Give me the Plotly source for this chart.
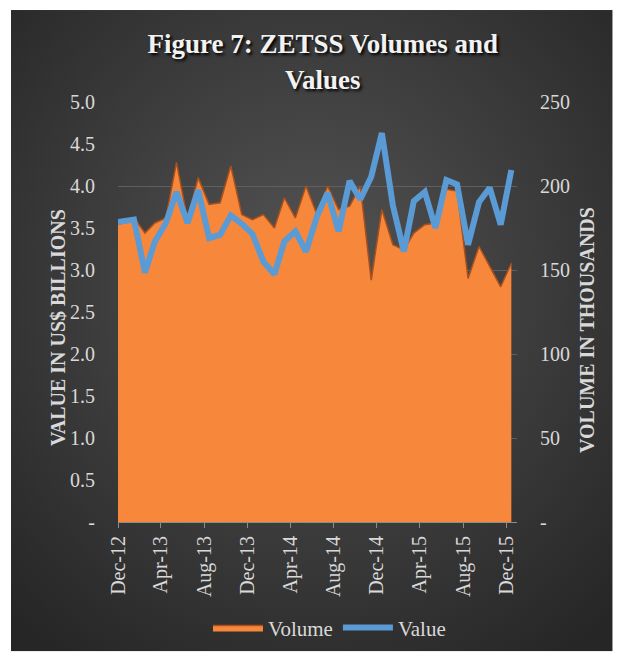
import base64

import pandas as pd
import plotly.graph_objects as go

# monthly observations, plotted mid-month (Nov-12 .. Dec-15)
months = pd.date_range("2012-11-01", "2015-12-01", freq="MS") + pd.Timedelta(days=14)

# Volume in thousands (right axis)
volume = [176, 178, 181, 172, 178, 181, 214, 180, 205, 189,
          190, 212, 183, 180, 183, 175, 193, 181, 200, 183,
          200, 186, 188, 200, 144, 186, 165, 162, 172, 177,
          178, 198, 197, 145, 164, 152, 140, 154]

# Value in US$ billions (left axis)
value = [3.56, 3.58, 3.60, 2.97, 3.34, 3.56, 3.93, 3.56, 3.95, 3.38,
         3.42, 3.65, 3.55, 3.43, 3.10, 2.95, 3.34, 3.46, 3.22, 3.64,
         3.92, 3.46, 4.06, 3.84, 4.11, 4.63, 3.77, 3.22, 3.82, 3.93,
         3.50, 4.07, 4.02, 3.30, 3.81, 3.98, 3.54, 4.19]

value_ticks = [0, 0.5, 1.0, 1.5, 2.0, 2.5, 3.0, 3.5, 4.0, 4.5, 5.0]
value_labels = ["-"] + [f"{v:.1f}" for v in value_ticks[1:]]
volume_ticks = [0, 50, 100, 150, 200, 250]
volume_labels = ["-"] + [str(v) for v in volume_ticks[1:]]

SERIF = "Liberation Serif"
LABEL = "#d9d9d9"

# dark radial background like the Excel chart style
svg = ('<svg xmlns="http://www.w3.org/2000/svg" width="600" height="640">'
       '<defs><radialGradient id="g" cx="50%" cy="42%" r="72%">'
       '<stop offset="0" stop-color="#545454"/>'
       '<stop offset="1" stop-color="#262626"/>'
       '</radialGradient></defs>'
       '<rect width="600" height="640" fill="url(#g)"/></svg>')
bg_src = "data:image/svg+xml;base64," + base64.b64encode(svg.encode()).decode()

fig = go.Figure()

# volume area on the base axis so the value line draws above it
fig.add_trace(go.Scatter(
    x=months, y=volume, name="Volume", mode="lines",
    fill="tozeroy", fillcolor="#F7873A",
    line=dict(color="#A9501C", width=1.5),
    yaxis="y",
))
fig.add_trace(go.Scatter(
    x=months, y=value, name="Value", mode="lines",
    line=dict(color="#5B9BD5", width=6),
    yaxis="y2",
))

# page body adds an 8px offset, margins are set with that in mind
fig.update_layout(
    width=621, height=658,
    margin=dict(l=110, r=112, t=94, b=144),
    paper_bgcolor="white",
    plot_bgcolor="rgba(0,0,0,0)",
    font=dict(family=SERIF, color=LABEL, size=20),
    title=dict(
        text="<b>Figure 7: ZETSS Volumes and<br>Values</b>",
        x=0.507, xref="container", xanchor="center",
        y=0.931, yref="container", yanchor="middle",
        font=dict(family=SERIF, size=27, color="#f2f2f2",
                  shadow="2px 2px 3px #000000"),
    ),
    xaxis=dict(
        type="date",
        range=["2012-12-01", "2015-12-31"],
        tickmode="linear", tick0="2012-12-01", dtick="M4",
        tickformat="%b-%y", tickangle=-90,
        ticks="outside", ticklen=5, tickcolor="#8c8c8c",
        showline=True, linecolor="#8c8c8c", linewidth=1,
        showgrid=False, zeroline=False,
        tickfont=dict(family=SERIF, size=20, color=LABEL),
    ),
    yaxis=dict(
        side="right", range=[0, 250],
        tickvals=volume_ticks, ticktext=volume_labels,
        showgrid=True, gridcolor="#5f5f5f", gridwidth=1,
        zeroline=False, showline=False, ticks="",
        ticklabelstandoff=22,
        tickfont=dict(family=SERIF, size=20, color=LABEL),
    ),
    yaxis2=dict(
        side="left", overlaying="y", range=[0, 5],
        tickvals=value_ticks, ticktext=value_labels,
        showgrid=False, zeroline=False, showline=False, ticks="",
        ticklabelstandoff=22,
        tickfont=dict(family=SERIF, size=20, color=LABEL),
    ),
    legend=dict(
        orientation="h", x=0.53, xanchor="center",
        y=-0.252, yanchor="middle",
        font=dict(family=SERIF, size=21, color=LABEL),
        bgcolor="rgba(0,0,0,0)", itemwidth=50,
    ),
    images=[dict(
        source=bg_src, xref="paper", yref="paper",
        x=-0.2682, y=1.219, sizex=1.508, sizey=1.527,
        xanchor="left", yanchor="top", sizing="stretch", layer="below",
    )],
    annotations=[
        dict(text="<b>VALUE IN US$ BILLIONS</b>", textangle=-90,
             xref="paper", yref="paper", x=-0.183, y=0.464,
             showarrow=False, font=dict(family=SERIF, size=20, color=LABEL)),
        dict(text="<b>VOLUME IN THOUSANDS</b>", textangle=-90,
             xref="paper", yref="paper", x=1.208, y=0.457,
             showarrow=False, font=dict(family=SERIF, size=20, color=LABEL)),
    ],
)

fig.write_html("out.html")
